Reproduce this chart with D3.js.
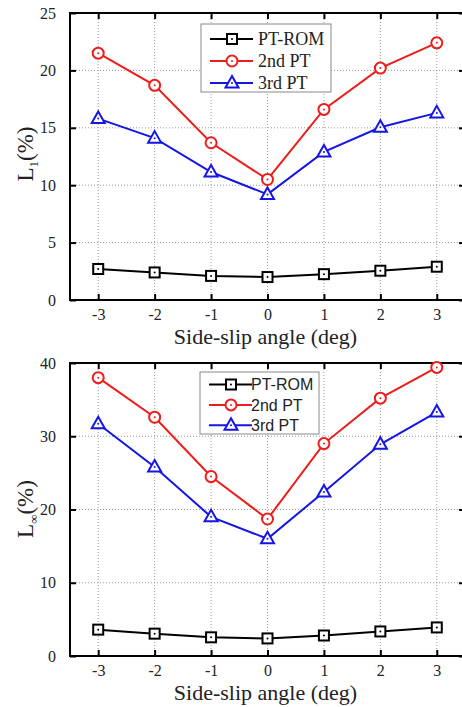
<!DOCTYPE html>
<html>
<head>
<meta charset="utf-8">
<script src="https://cdn.jsdelivr.net/npm/d3@7"></script>
<style>
  body { margin: 0; background: #fff; }
  svg { display: block; }
  .grid line { stroke: #9a9a9a; stroke-width: 1; stroke-dasharray: 1,2; }
  .frame { fill: none; stroke: #000; stroke-width: 2; }
</style>
</head>
<body>
<div id="chart"></div>
<script>
// Data
const angles = [-3, -2, -1, 0, 1, 2, 3];
const seriesNames = ["PT-ROM", "2nd PT", "3rd PT"];
const seriesColors = ["#000000", "#ee1c1c", "#1515e6"];
const seriesMarkers = ["square", "circle", "triangle"];

const l1Rom = [2.7, 2.4, 2.1, 2.0, 2.25, 2.55, 2.9];
const l1Pt2 = [21.5, 18.7, 13.7, 10.5, 16.6, 20.2, 22.4];
const l1Pt3 = [15.8, 14.1, 11.15, 9.2, 12.9, 15.05, 16.3];
const l1Ticks = [0, 5, 10, 15, 20, 25];

const linfRom = [3.6, 3.05, 2.55, 2.4, 2.8, 3.35, 3.9];
const linfPt2 = [38.0, 32.6, 24.5, 18.7, 29.0, 35.2, 39.4];
const linfPt3 = [31.7, 25.8, 19.0, 16.0, 22.4, 28.9, 33.3];
const linfTicks = [0, 10, 20, 30, 40];

const xTicks = [-3, -2, -1, 0, 1, 2, 3];

const serif = "'Liberation Serif', 'Times New Roman', serif";
const sans = "'Liberation Sans', Arial, sans-serif";

const svg = d3
  .select("#chart")
  .append("svg")
  .attr("width", 462)
  .attr("height", 707);

renderPanel({
  series: [l1Rom, l1Pt2, l1Pt3],
  yTicks: l1Ticks,
  sub: "1",
  top: 13,
  bottom: 300,
  legend: { x: 201, y: 24, w: 130, h: 68, first: 15, row: 22, font: serif, size: 18 },
  labelCenter: 154,
});

renderPanel({
  series: [linfRom, linfPt2, linfPt3],
  yTicks: linfTicks,
  sub: "\u221e",
  top: 363,
  bottom: 656,
  legend: { x: 200, y: 372, w: 119, h: 62, first: 12.5, row: 20.4, font: sans, size: 16 },
  labelCenter: 509,
});

function renderPanel({ series, yTicks, sub, top, bottom, legend, labelCenter }) {
  const left = 70;
  const right = 465;

  const xScale = d3.scaleLinear().domain([-3.5, 3.5]).range([left, right]);
  const yScale = d3
    .scaleLinear()
    .domain(d3.extent(yTicks))
    .range([bottom, top]);

  const g = svg.append("g");

  // Grid
  const grid = g.append("g").attr("class", "grid");
  grid
    .selectAll(".vx")
    .data(xTicks)
    .join("line")
    .attr("x1", (d) => xScale(d))
    .attr("x2", (d) => xScale(d))
    .attr("y1", top)
    .attr("y2", bottom);
  grid
    .selectAll(".hy")
    .data(yTicks.slice(1, -1))
    .join("line")
    .attr("x1", left)
    .attr("x2", right)
    .attr("y1", (d) => yScale(d))
    .attr("y2", (d) => yScale(d));

  // Axes with inward ticks
  const fmt = (d) => d;
  const xAxisBottom = g
    .append("g")
    .attr("transform", `translate(0,${bottom})`)
    .call(d3.axisBottom(xScale).tickValues(xTicks).tickSize(-6).tickPadding(9).tickFormat(fmt));
  const xAxisTop = g
    .append("g")
    .attr("transform", `translate(0,${top})`)
    .call(d3.axisTop(xScale).tickValues(xTicks).tickSize(-6).tickFormat(""));
  const yAxisLeft = g
    .append("g")
    .attr("transform", `translate(${left},0)`)
    .call(d3.axisLeft(yScale).tickValues(yTicks).tickSize(-6).tickPadding(14).tickFormat(fmt));
  const yAxisRight = g
    .append("g")
    .attr("transform", `translate(${right},0)`)
    .call(d3.axisRight(yScale).tickValues(yTicks).tickSize(-6).tickFormat(""));

  [xAxisBottom, xAxisTop, yAxisLeft, yAxisRight].forEach((a) => {
    a.select(".domain").remove();
    a.selectAll(".tick line").attr("stroke", "#000").attr("stroke-width", 2);
    a.selectAll("text")
      .attr("fill", "#222")
      .style("font-family", serif)
      .style("font-size", "16px");
  });

  g.append("rect")
    .attr("class", "frame")
    .attr("x", left)
    .attr("y", top)
    .attr("width", right - left)
    .attr("height", bottom - top);

  // Lines and markers
  const line = d3
    .line()
    .x((d, i) => xScale(angles[i]))
    .y((d) => yScale(d));

  series.forEach((values, s) => {
    g.append("path")
      .attr("fill", "none")
      .attr("stroke", seriesColors[s])
      .attr("stroke-width", 2)
      .attr("d", line(values));
    values.forEach((v, i) => {
      drawMarker(g, seriesMarkers[s], seriesColors[s], xScale(angles[i]), yScale(v));
    });
  });

  // Legend
  const lg = g.append("g").attr("transform", `translate(${legend.x},${legend.y})`);
  lg.append("rect")
    .attr("width", legend.w)
    .attr("height", legend.h)
    .attr("fill", "#fff")
    .attr("stroke", "#888")
    .attr("stroke-width", 1);
  seriesNames.forEach((name, s) => {
    const cy = legend.first + s * legend.row;
    lg.append("line")
      .attr("x1", 9)
      .attr("x2", 52)
      .attr("y1", cy)
      .attr("y2", cy)
      .attr("stroke", seriesColors[s])
      .attr("stroke-width", 2);
    drawMarker(lg, seriesMarkers[s], seriesColors[s], 31, cy);
    lg.append("text")
      .attr("x", legend.font === serif ? 57 : 51)
      .attr("y", cy)
      .attr("dy", "0.36em")
      .attr("fill", "#222")
      .style("font-family", legend.font)
      .style("font-size", legend.size + "px")
      .text(name);
  });

  // Axis titles
  g.append("text")
    .attr("x", (left + right) / 2 - 2)
    .attr("y", bottom + 44)
    .attr("text-anchor", "middle")
    .attr("fill", "#222")
    .style("font-family", serif)
    .style("font-size", "22px")
    .text("Side-slip angle (deg)");

  const yl = g
    .append("text")
    .attr("transform", `translate(33,${labelCenter}) rotate(-90)`)
    .attr("text-anchor", "middle")
    .attr("fill", "#222")
    .style("font-family", serif)
    .style("font-size", "23px");
  yl.append("tspan").text("L");
  yl.append("tspan")
    .attr("dy", 5)
    .style("font-size", "13px")
    .text(sub);
  yl.append("tspan").attr("dy", -5).text("(%)");
}

function drawMarker(parent, type, color, x, y) {
  const m = parent.append("g").attr("transform", `translate(${x},${y})`);
  if (type === "square") {
    m.append("rect")
      .attr("x", -5)
      .attr("y", -5)
      .attr("width", 10)
      .attr("height", 10)
      .attr("fill", "#fff")
      .attr("stroke", color)
      .attr("stroke-width", 2);
  } else if (type === "circle") {
    m.append("circle")
      .attr("r", 5.5)
      .attr("fill", "#fff")
      .attr("stroke", color)
      .attr("stroke-width", 2);
  } else {
    m.append("path")
      .attr("d", "M0,-7L6.5,4.5L-6.5,4.5Z")
      .attr("fill", "#fff")
      .attr("stroke", color)
      .attr("stroke-width", 2);
  }
  m.append("circle").attr("r", 1).attr("fill", color);
}
</script>
</body>
</html>
